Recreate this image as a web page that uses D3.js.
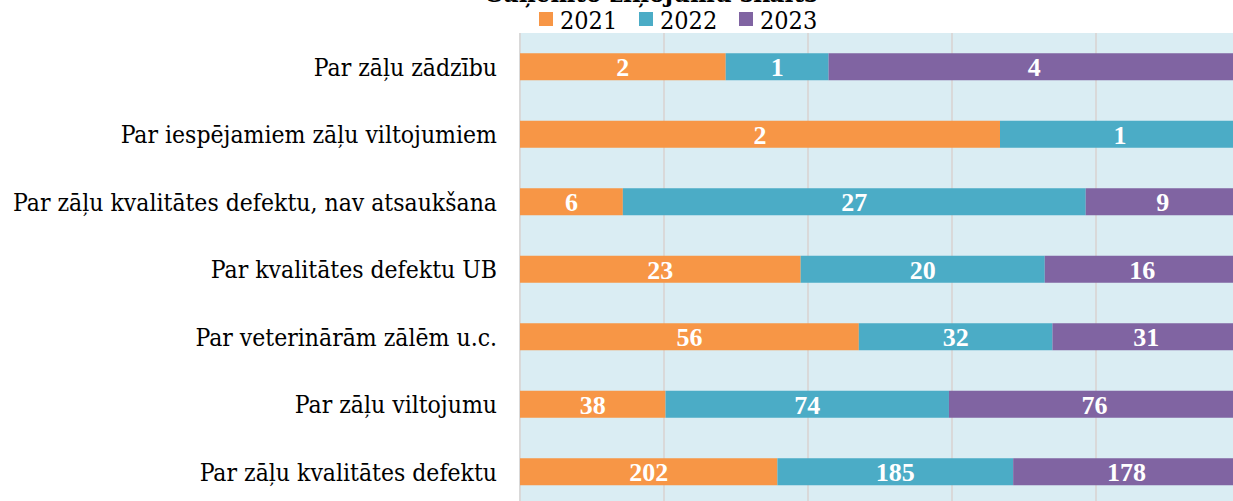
<!DOCTYPE html>
<html lang="lv">
<head>
  <meta charset="UTF-8">
  <title>Saņemto ziņojumu skaits</title>
  <script src="https://d3js.org/d3.v7.min.js"></script>
  <style>
    body { margin: 0; background: #fff; }
    svg { display: block; }
  </style>
</head>
<body>
  <div id="chart"></div>
  <script>
    // dati
    const categories = [
      'Par zāļu zādzību',
      'Par iespējamiem zāļu viltojumiem',
      'Par zāļu kvalitātes defektu, nav atsaukšana',
      'Par kvalitātes defektu UB',
      'Par veterinārām zālēm u.c.',
      'Par zāļu viltojumu',
      'Par zāļu kvalitātes defektu'
    ];
    const years = ['2021', '2022', '2023'];
    const values2021 = [2, 2, 6, 23, 56, 38, 202];
    const values2022 = [1, 1, 27, 20, 32, 74, 185];
    const values2023 = [4, 0, 9, 16, 31, 76, 178];
    const colors = ['#f79646', '#4bacc6', '#8064a2'];
    const ticks = [0, 0.2, 0.4, 0.6, 0.8, 1];

    const width = 1233, height = 501;
    const plot = { left: 520, top: 33, width: 720, rowH: 67.5 };
    const font = '"DejaVu Serif Condensed", "DejaVu Serif", serif';
    const numFont = '"Liberation Serif", serif';

    const svg = d3.select('#chart').append('svg')
      .attr('width', width).attr('height', height);

    const rows = categories.map((c, i) => {
      const vals = [values2021[i], values2022[i], values2023[i]];
      const total = d3.sum(vals);
      let acc = 0;
      const segs = vals.map((v, k) => {
        const s = { key: k, v, x0: acc / total, x1: (acc + v) / total };
        acc += v;
        return s;
      });
      return { cat: c, segs };
    });

    const x = d3.scaleLinear().domain([0, 1]).range([plot.left, plot.left + plot.width]);
    const y = d3.scaleBand().domain(categories)
      .range([plot.top, plot.top + plot.rowH * categories.length])
      .paddingInner(0.6).paddingOuter(0.3);

    // fons
    svg.append('rect')
      .attr('x', x(0)).attr('y', plot.top)
      .attr('width', plot.width).attr('height', height - plot.top + 10)
      .attr('fill', '#daedf3');

    // režģis
    svg.append('g').selectAll('line').data(ticks).join('line')
      .attr('x1', d => x(d)).attr('x2', d => x(d))
      .attr('y1', plot.top).attr('y2', height)
      .attr('stroke', '#d9d9d9').attr('stroke-width', 2);

    // stabiņi
    const rowG = svg.append('g').selectAll('g').data(rows).join('g')
      .attr('transform', d => `translate(0,${y(d.cat)})`);

    rowG.selectAll('rect').data(d => d.segs.filter(s => s.v > 0)).join('rect')
      .attr('x', d => x(d.x0))
      .attr('width', d => x(d.x1) - x(d.x0))
      .attr('height', y.bandwidth())
      .attr('fill', d => colors[d.key]);

    rowG.selectAll('text').data(d => d.segs.filter(s => s.v > 0)).join('text')
      .attr('x', d => (x(d.x0) + x(d.x1)) / 2)
      .attr('y', y.bandwidth() / 2)
      .attr('dy', '0.36em')
      .attr('text-anchor', 'middle')
      .attr('fill', '#fff')
      .attr('font-family', numFont)
      .attr('font-weight', 'bold')
      .attr('font-size', 26)
      .text(d => d.v);

    // kategoriju ass
    svg.append('g').selectAll('text').data(categories).join('text')
      .attr('x', 497)
      .attr('y', d => y(d) + y.bandwidth() / 2)
      .attr('dy', '0.36em')
      .attr('text-anchor', 'end')
      .attr('font-family', font)
      .attr('font-size', 24.5)
      .attr('fill', '#000')
      .text(d => d);

    // virsraksts (daļēji ārpus kadra)
    svg.append('text')
      .attr('x', 652).attr('y', 2)
      .attr('text-anchor', 'middle')
      .attr('font-family', font)
      .attr('font-weight', 'bold')
      .attr('font-size', 26)
      .text('Saņemto ziņojumu skaits');

    // leģenda
    const legend = svg.append('g').selectAll('g').data(years).join('g')
      .attr('transform', (d, i) => `translate(${539 + i * 100},12)`);
    legend.append('rect').attr('width', 14).attr('height', 14)
      .attr('fill', (d, i) => colors[i]);
    legend.append('text')
      .attr('x', 21).attr('y', 7).attr('dy', '0.38em')
      .attr('font-family', font).attr('font-size', 25)
      .text(d => d);
  </script>
</body>
</html>
